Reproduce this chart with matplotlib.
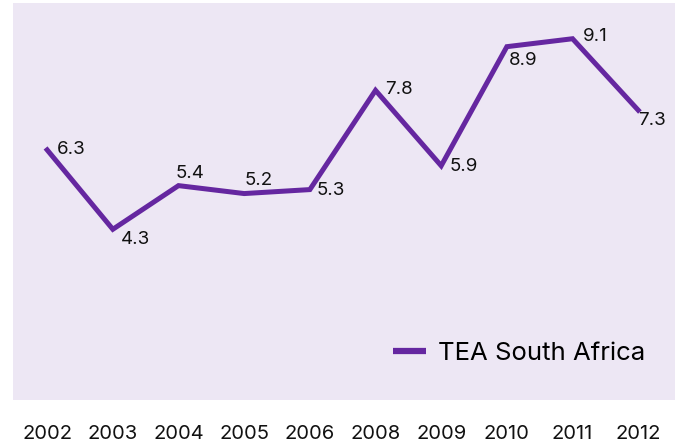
import matplotlib
matplotlib.use("Agg")
from matplotlib import pyplot as plt

# TEA rate per year
years = ["2002", "2003", "2004", "2005", "2006", "2008", "2009", "2010", "2011", "2012"]
tea = [6.3, 4.3, 5.4, 5.2, 5.3, 7.8, 5.9, 8.9, 9.1, 7.3]

# label offsets in pixels (dx, dy), nudged per point so they clear the line
offsets = [(10, 0), (8, -10), (-3, 12), (0, 13), (7, -1), (10, 1), (8, -1), (2, -14), (10, 2), (0, -10)]

purple = "#6527a0"
plt.rcParams["font.family"] = ["Inter", "DejaVu Sans"]

fig = plt.figure(figsize=(6.82, 4.43), dpi=100)
ax = fig.add_axes([13 / 682, 43 / 443, 662 / 682, 397 / 443])
ax.set_facecolor("#ede7f4")

x = list(range(len(years)))
ax.plot(x, tea, color=purple, lw=3.6, solid_joinstyle="miter", label="TEA South Africa")

for xi, v, (dx, dy) in zip(x, tea, offsets):
    ax.annotate(f"{v}", (xi, v), xytext=(dx, dy), textcoords="offset pixels",
                ha="left", va="center", fontsize=13.5, color="#111111")

ax.set_xlim(-0.52, 9.56)
ax.set_ylim(0, 10)
ax.set_xticks(x)
ax.set_xticklabels(years, fontsize=14.5, color="#111111")
ax.tick_params(axis="x", length=0, pad=18)
ax.set_yticks([])
for s in ax.spines.values():
    s.set_visible(False)

leg = ax.legend(loc="lower right", bbox_to_anchor=(0.99, 0.03), frameon=False,
                fontsize=18.5, handlelength=1.3, handletextpad=0.45)
for h in leg.get_lines():
    h.set_linewidth(4.5)
    h.set_solid_capstyle("butt")

fig.savefig("out.png", dpi=100)
